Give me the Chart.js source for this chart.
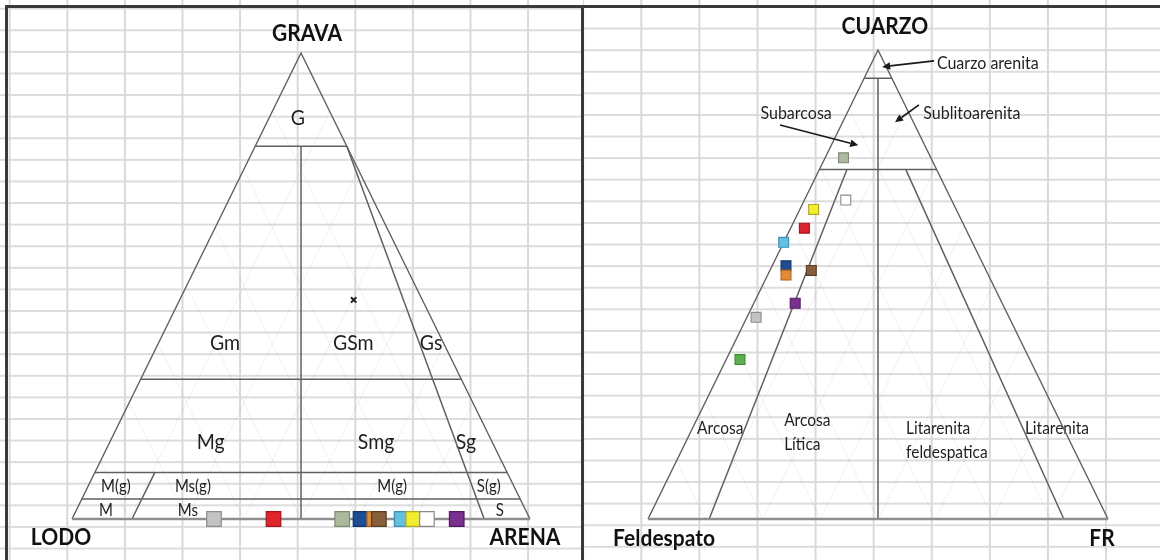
<!DOCTYPE html>
<html>
<head>
<meta charset="utf-8">
<script src="https://cdn.jsdelivr.net/npm/chart.js@4.4.1/dist/chart.umd.min.js"></script>
<style>
  html, body { margin: 0; padding: 0; background: #fff; }
  #sheet { position: relative; width: 1160px; height: 560px; overflow: hidden; background: #fff; }
  .panel { position: absolute; top: 0; height: 560px; }
  #panelL {
    left: 0; width: 582px;
    background-image:
      linear-gradient(to right, #d9d9d9 0, #d9d9d9 1.5px, transparent 1.5px),
      linear-gradient(to bottom, #dcdcdc 0, #dcdcdc 1.5px, transparent 1.5px);
    background-size: 57.6px 100%, 100% 21.6px;
    background-position: 66.3px 0, 0 29.3px;
  }
  #panelR {
    left: 583px; width: 577px;
    background-image:
      linear-gradient(to right, #d9d9d9 0, #d9d9d9 1.5px, transparent 1.5px),
      linear-gradient(to bottom, #dcdcdc 0, #dcdcdc 1.5px, transparent 1.5px);
    background-size: 58.1px 100%, 100% 21.6px;
    background-position: 57.3px 0, 0 27.6px;
  }
  canvas { position: absolute; top: 0; }
  #texture { left: 0; }
  #framework { left: 584px; }
  .rule { position: absolute; background: #3a3a3a; }
</style>
</head>
<body>
<div id="sheet">
  <div class="panel" id="panelL"></div>
  <div class="panel" id="panelR"></div>
  <canvas id="texture" width="581" height="560"></canvas>
  <canvas id="framework" width="576" height="560"></canvas>
  <div class="rule" style="left:5px;top:5px;width:1155px;height:3px"></div>
  <div class="rule" style="left:5px;top:5px;width:3px;height:555px"></div>
  <div class="rule" style="left:581px;top:5px;width:3px;height:555px"></div>
</div>
<script>
// ---- Samples (same order and colour in both diagrams) ----
// Texture: gravel / sand / mud, percent
const gravelPct = [0, 0, 0, 0, 0, 0, 0, 0, 0, 0, 0];
const sandPct   = [31, 44, 59, 63, 66, 67, 72, 72, 74.5, 77.5, 84];
const mudPct    = [69, 56, 41, 37, 34, 33, 28, 28, 25.5, 22.5, 16];

// Framework grains: quartz / feldspar / rock fragments, percent
const quartzPct   = [43, 62, 77, 54, 52, 53, 34, 59, 66, 68, 46];
const feldsparPct = [55, 35, 19, 43, 44, 38, 63, 41, 31, 23, 45];
const rockFragPct = [2, 3, 4, 3, 4, 9, 3, 0, 3, 9, 9];

// Extra texture composition plotted as a plain cross: [G, S, M]
const crossTexture = [47, 38, 15];

const sampleFill = ['#c3c3c3', '#e1232c', '#acb99d', '#1d4d94', '#e48a30', '#87603a',
                    '#5bb04d', '#62c0e4', '#f3ee2c', '#ffffff', '#7b2f8f'];
const sampleEdge = ['#8d8d8d', '#a8141b', '#7d8c6f', '#123468', '#b0651d', '#5a3c20',
                    '#3b8a30', '#3696bc', '#b1a81a', '#8a8a8a', '#51195f'];

// ---- Class boundaries, end points as ternary compositions ----
// Gravel–sand–mud diagram, [G, S, M]
const textureBounds = [
  [[80, 0, 20], [80, 20, 0]],
  [[30, 0, 70], [30, 70, 0]],
  [[10, 0, 90], [10, 90, 0]],
  [[4.3, 0, 95.7], [4.3, 95.7, 0]],
  [[80, 10, 10], [0, 50, 50]],
  [[80, 20, 0], [0, 90, 10]],
  [[10, 13.1, 76.9], [0, 13.1, 86.9]]
];
// Q–F–R diagram, [Q, F, R]
const qfrBounds = [
  [[94, 6, 0], [94, 0, 6]],
  [[74.5, 25.5, 0], [74.5, 0, 25.5]],
  [[94, 3, 3], [0, 50, 50]],
  [[74.5, 19.5, 6], [0, 86.7, 13.3]],
  [[74.5, 6.7, 18.8], [0, 9.6, 90.4]]
];

// ---- Ternary -> plane: top component is height, right component shifts right ----
// texture: top = G, right = S ; framework: top = Q, right = R
const texXY = (g, s) => ({ x: s / 100 + g / 200, y: g / 100 });
const qfrXY = (q, r) => ({ x: r / 100 + q / 200, y: q / 100 });

function segmentsData(list) {
  const pts = [];
  list.forEach(seg => { pts.push(seg[0], seg[1], { x: null, y: null }); });
  return pts;
}
function latticeData(n) {
  const pts = [];
  for (let k = 1; k < n; k++) {
    const f = k / n;
    // constant right-corner share (parallel to left side)
    pts.push({ x: f, y: 0 }, { x: f + (1 - f) / 2, y: 1 - f }, { x: null, y: null });
    // constant left-corner share (parallel to right side)
    pts.push({ x: 1 - f, y: 0 }, { x: (1 - f) / 2, y: 1 - f }, { x: null, y: null });
  }
  return pts;
}
const outline = [{ x: 0, y: 0 }, { x: 0.5, y: 1 }, { x: 1, y: 0 }];
const baseLine = [{ x: 0, y: 0 }, { x: 1, y: 0 }];

function frame(w, h, x0, x1, yBase, yApex) {
  const sx = x1 - x0, sy = yBase - yApex;
  return { xMin: -x0 / sx, xMax: (w - x0) / sx, yMin: (yBase - h) / sy, yMax: yBase / sy };
}

function drawStretched(ctx, text, px, py) {
  ctx.save();
  ctx.translate(px, py);
  ctx.scale(1, 1.12);
  ctx.fillText(text, 0, 0);
  ctx.restore();
}

function textPlugin(labels, arrows) {
  return {
    id: 'panelText',
    beforeDatasetsDraw(chart) {
      const { ctx, scales: { x, y } } = chart;
      ctx.save();
      ctx.textBaseline = 'middle';
      labels.forEach(l => {
        ctx.font = (l.bold ? 'bold ' : '') + l.size + 'px Lato, "Open Sans", sans-serif';
        ctx.fillStyle = l.bold ? '#111111' : '#1f1f1f';
        ctx.textAlign = l.align || 'center';
        drawStretched(ctx, l.t, x.getPixelForValue(l.u), y.getPixelForValue(l.v));
      });
      ctx.restore();
    },
    afterDatasetsDraw(chart) {
      const { ctx, scales: { x, y } } = chart;
      ctx.save();
      ctx.strokeStyle = '#1a1a1a';
      ctx.fillStyle = '#1a1a1a';
      ctx.lineWidth = 1.7;
      arrows.forEach(a => {
        const x1 = x.getPixelForValue(a.from[0]), y1 = y.getPixelForValue(a.from[1]);
        const x2 = x.getPixelForValue(a.to[0]), y2 = y.getPixelForValue(a.to[1]);
        const ang = Math.atan2(y2 - y1, x2 - x1), L = 8, W = 3.8;
        const bx = x2 - L * Math.cos(ang), by = y2 - L * Math.sin(ang);
        ctx.beginPath(); ctx.moveTo(x1, y1); ctx.lineTo(bx, by); ctx.stroke();
        ctx.beginPath();
        ctx.moveTo(x2, y2);
        ctx.lineTo(bx + W * Math.sin(ang), by - W * Math.cos(ang));
        ctx.lineTo(bx - W * Math.sin(ang), by + W * Math.cos(ang));
        ctx.closePath(); ctx.fill();
      });
      ctx.restore();
    }
  };
}

function lineSet(data, color, width, order) {
  return { data, showLine: true, pointRadius: 0, pointHoverRadius: 0, borderColor: color,
           borderWidth: width, fill: false, spanGaps: false, order, clip: false };
}

function ternaryChart(id, fr, datasets, labels, arrows) {
  return new Chart(document.getElementById(id), {
    type: 'scatter',
    data: { datasets },
    options: {
      responsive: false,
      animation: false,
      events: [],
      layout: { padding: 0, autoPadding: false },
      elements: { line: { tension: 0 } },
      plugins: { legend: { display: false }, tooltip: { enabled: false } },
      scales: {
        x: { type: 'linear', display: false, bounds: 'data', min: fr.xMin, max: fr.xMax },
        y: { type: 'linear', display: false, bounds: 'data', min: fr.yMin, max: fr.yMax }
      }
    },
    plugins: [textPlugin(labels, arrows)]
  });
}

// ---- Gravel – sand – mud (left) ----
const texturePoints = gravelPct.map((g, i) => texXY(g, sandPct[i]));
ternaryChart('texture', frame(581, 560, 72, 530, 519, 53), [
  lineSet(latticeData(8), 'rgba(0,0,0,0.06)', 1, 9),
  lineSet(segmentsData(textureBounds.map(s => s.map(p => texXY(p[0], p[1])))), '#606060', 1.5, 7),
  lineSet(outline, '#5e5e5e', 1.4, 6),
  lineSet(baseLine, '#8e8e8e', 2.6, 5),
  { data: [texXY(crossTexture[0], crossTexture[1])], pointStyle: 'crossRot', pointRadius: 3.8,
    pointBorderWidth: 2, pointBorderColor: '#222', pointBackgroundColor: '#222', order: 2, clip: false },
  { data: texturePoints, pointStyle: 'rect', pointRadius: 10.3, pointBorderWidth: 1.2,
    pointBackgroundColor: sampleFill, pointBorderColor: sampleEdge, order: 1, clip: false }
], [
  { t: 'GRAVA', u: 0.513, v: 1.043, size: 21, bold: true },
  { t: 'LODO', u: -0.024, v: -0.039, size: 21, bold: true },
  { t: 'ARENA', u: 0.989, v: -0.039, size: 21, bold: true },
  { t: 'G', u: 0.493, v: 0.861, size: 19.5 },
  { t: 'Gm', u: 0.334, v: 0.378, size: 19.5 },
  { t: 'GSm', u: 0.614, v: 0.378, size: 19.5 },
  { t: 'Gs', u: 0.784, v: 0.378, size: 19.5 },
  { t: 'Mg', u: 0.303, v: 0.165, size: 19.5 },
  { t: 'Smg', u: 0.664, v: 0.165, size: 19.5 },
  { t: 'Sg', u: 0.860, v: 0.165, size: 19.5 },
  { t: 'M(g)', u: 0.096, v: 0.069, size: 15 },
  { t: 'Ms(g)', u: 0.264, v: 0.069, size: 15 },
  { t: 'M(g)', u: 0.699, v: 0.069, size: 15 },
  { t: 'S(g)', u: 0.910, v: 0.069, size: 15 },
  { t: 'M', u: 0.074, v: 0.019, size: 15 },
  { t: 'Ms', u: 0.253, v: 0.019, size: 15 },
  { t: 'S', u: 0.934, v: 0.019, size: 15 }
], []);

// ---- Quartz – feldspar – rock fragments (right) ----
const qfrPoints = quartzPct.map((q, i) => qfrXY(q, rockFragPct[i]));
ternaryChart('framework', frame(576, 560, 64, 524, 519, 50), [
  lineSet(latticeData(8), 'rgba(0,0,0,0.06)', 1, 9),
  lineSet(segmentsData(qfrBounds.map(s => s.map(p => qfrXY(p[0], p[2])))), '#606060', 1.5, 7),
  lineSet(outline, '#5e5e5e', 1.4, 6),
  lineSet(baseLine, '#8e8e8e', 2.3, 5),
  { data: qfrPoints, pointStyle: 'rect', pointRadius: 7, pointBorderWidth: 1.1,
    pointBackgroundColor: sampleFill, pointBorderColor: sampleEdge, order: 1, clip: false }
], [
  { t: 'CUARZO', u: 0.515, v: 1.051, size: 21, bold: true },
  { t: 'Feldespato', u: 0.035, v: -0.0405, size: 21, bold: true },
  { t: 'FR', u: 0.987, v: -0.0405, size: 21, bold: true },
  { t: 'Cuarzo arenita', u: 0.628, v: 0.972, size: 16, align: 'left' },
  { t: 'Subarcosa', u: 0.322, v: 0.866, size: 16 },
  { t: 'Sublitoarenita', u: 0.704, v: 0.866, size: 16 },
  { t: 'Arcosa', u: 0.157, v: 0.194, size: 15.5 },
  { t: 'Arcosa', u: 0.296, v: 0.211, size: 15.5, align: 'left' },
  { t: 'Lítica', u: 0.296, v: 0.158, size: 15.5, align: 'left' },
  { t: 'Litarenita', u: 0.561, v: 0.194, size: 15.5, align: 'left' },
  { t: 'feldespatica', u: 0.561, v: 0.141, size: 15.5, align: 'left' },
  { t: 'Litarenita', u: 0.889, v: 0.194, size: 15.5 }
], [
  { from: [0.622, 0.977], to: [0.509, 0.964] },
  { from: [0.287, 0.840], to: [0.457, 0.797] },
  { from: [0.589, 0.883], to: [0.537, 0.846] }
]);
</script>
</body>
</html>
